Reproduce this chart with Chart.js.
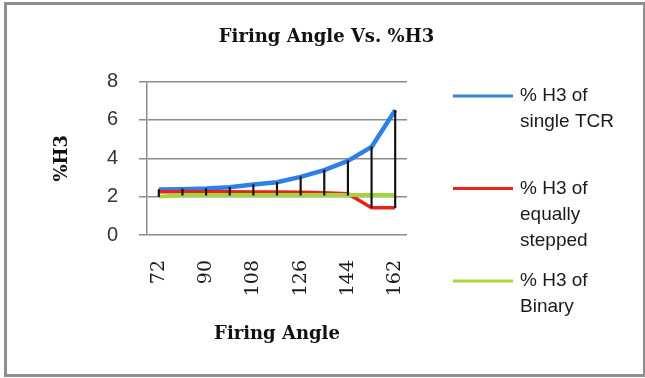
<!DOCTYPE html>
<html>
<head>
<meta charset="utf-8">
<script src="https://cdn.jsdelivr.net/npm/chart.js@4/dist/chart.umd.min.js"></script>
<style>
  html, body { margin: 0; padding: 0; background: #ffffff; }
  #frame {
    position: absolute; left: 4px; top: 2px; width: 641px; height: 375px;
    box-sizing: border-box; border: 3px solid #8e8e8e; border-right-width: 2px;
  }
  #wrap { position: absolute; left: 0; top: 0; width: 645px; height: 378px; }
</style>
</head>
<body>
<div id="frame"></div>
<div id="wrap"><canvas id="c" width="645" height="378"></canvas></div>
<script>
// Firing angle (degrees) on the category axis
const firingAngles = ['72', '81', '90', '99', '108', '117', '126', '135', '144', '153', '162'];

// Third-harmonic content (%) for each compensator arrangement
const singleTCR      = [2.37, 2.39, 2.42, 2.49, 2.63, 2.75, 3.03, 3.38, 3.86, 4.59, 6.50];
const equallyStepped = [2.25, 2.26, 2.26, 2.25, 2.24, 2.24, 2.23, 2.20, 2.15, 1.42, 1.42];
const binary         = [2.00, 2.08, 2.08, 2.08, 2.08, 2.08, 2.08, 2.08, 2.08, 2.08, 2.08];

// Legend captions, one entry per series, broken into lines
const seriesNames = [
  ['% H3 of', 'single TCR'],
  ['% H3 of', 'equally', 'stepped'],
  ['% H3 of', 'Binary']
];

const yTicks = [0, 2, 4, 6, 8];

// High-low range per angle, spanning all three series
const highLow = firingAngles.map((_, i) => {
  const v = [singleTCR[i], equallyStepped[i], binary[i]];
  return [Math.min(...v), Math.max(...v)];
});

const sans = "'Liberation Sans', Arial, sans-serif";
const serif = "'DejaVu Serif', serif";

// Multi-line legend painted in the space kept free on the right
const sideLegend = {
  id: 'sideLegend',
  afterDraw(chart) {
    const ctx = chart.ctx;
    const entries = chart.data.datasets.filter(d => d.legendLines);
    const startY = 96, step = 92.5, lineH = 26;
    ctx.save();
    ctx.font = '19px ' + sans;
    ctx.textBaseline = 'middle';
    ctx.textAlign = 'left';
    ctx.fillStyle = '#1a1a1a';
    entries.forEach((d, k) => {
      const y = startY + k * step;
      ctx.strokeStyle = d.legendColor;
      ctx.lineWidth = 3;
      ctx.beginPath();
      ctx.moveTo(453, y);
      ctx.lineTo(513, y);
      ctx.stroke();
      d.legendLines.forEach((t, j) => ctx.fillText(t, 520, y + j * lineH));
    });
    ctx.restore();
  }
};

new Chart(document.getElementById('c'), {
  type: 'line',
  data: {
    labels: firingAngles,
    datasets: [
      {
        type: 'bar',
        label: 'High-Low',
        data: highLow,
        backgroundColor: '#111111',
        barThickness: 1.5,
        grouped: false,
        order: 0
      },
      {
        label: seriesNames[0].join(' '),
        legendLines: seriesNames[0],
        legendColor: '#3a7fdc',
        data: singleTCR,
        borderColor: '#2f80e4',
        borderWidth: 4.5,
        tension: 0,
        pointRadius: 0,
        borderJoinStyle: 'round',
        order: 3
      },
      {
        label: seriesNames[1].join(' '),
        legendLines: seriesNames[1],
        legendColor: '#e8251e',
        data: equallyStepped,
        borderColor: '#e8231c',
        borderWidth: 3.5,
        tension: 0,
        pointRadius: 0,
        borderJoinStyle: 'round',
        order: 2
      },
      {
        label: seriesNames[2].join(' '),
        legendLines: seriesNames[2],
        legendColor: '#a6d83c',
        data: binary,
        borderColor: '#a4d63a',
        borderWidth: 4,
        tension: 0,
        pointRadius: 0,
        borderJoinStyle: 'round',
        order: 1
      }
    ]
  },
  options: {
    responsive: false,
    animation: false,
    layout: { padding: { left: 8, right: 0, top: 0, bottom: 0 } },
    plugins: {
      legend: { display: false },
      tooltip: { enabled: false },
      title: {
        display: true,
        text: 'Firing Angle Vs. %H3',
        color: '#111111',
        font: { family: serif, size: 18, weight: 'bold', lineHeight: 1.2 },
        padding: { top: 26.5, bottom: 33.4 }
      }
    },
    scales: {
      x: {
        offset: true,
        grid: { display: false, drawTicks: false },
        border: { display: false },
        ticks: {
          autoSkip: false,
          minRotation: 90,
          maxRotation: 90,
          padding: 25,
          color: '#1a1a1a',
          font: { family: serif, size: 19 },
          callback(value, index) {
            return index % 2 === 0 ? firingAngles[index] : '';
          }
        },
        title: {
          display: true,
          text: 'Firing Angle',
          color: '#111111',
          font: { family: serif, size: 18, weight: 'bold', lineHeight: 1.2 },
          padding: { top: 0, bottom: 32.8 }
        },
        afterFit(scale) { scale.height = 143; }
      },
      y: {
        min: 0,
        max: 8,
        afterBuildTicks(scale) { scale.ticks = yTicks.map(v => ({ value: v })); },
        grid: { color: '#8c8c8c', lineWidth: 1.5, tickLength: 8 },
        border: { display: true, color: '#8c8c8c', width: 1.5 },
        ticks: {
          padding: 21,
          color: '#333333',
          font: { family: sans, size: 20 }
        },
        title: {
          display: true,
          text: '%H3',
          color: '#111111',
          font: { family: serif, size: 18, weight: 'bold', lineHeight: 1.2 },
          padding: { top: 43.8, bottom: 0 }
        },
        afterFit(scale) { scale.width = 139; }
      },
      legendSpace: {
        type: 'linear',
        position: 'right',
        display: true,
        grid: { display: false, drawTicks: false },
        border: { display: false },
        ticks: { display: false },
        afterFit(scale) { scale.width = 238; }
      }
    }
  },
  plugins: [sideLegend]
});
</script>
</body>
</html>
